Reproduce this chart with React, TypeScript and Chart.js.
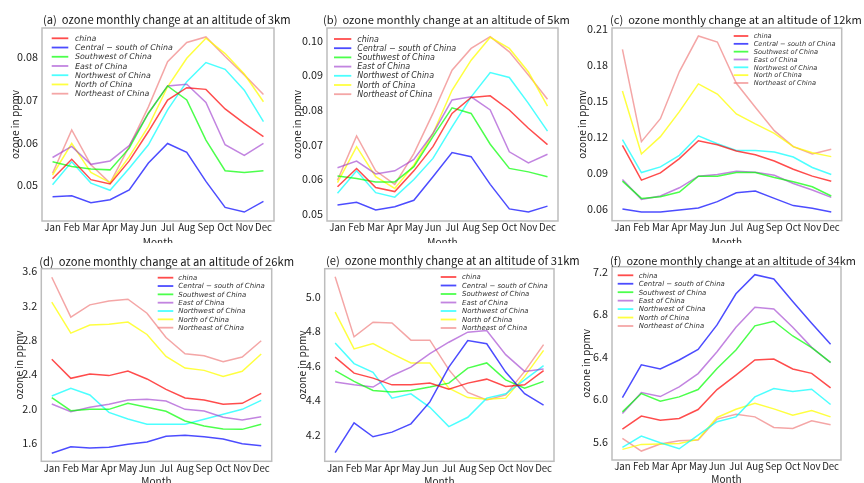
import React, { useEffect, useRef } from 'react';
import { Chart, registerables } from 'chart.js';

Chart.register(...registerables);

const months = ['Jan', 'Feb', 'Mar', 'Apr', 'May', 'Jun', 'Jul', 'Aug', 'Sep', 'Oct', 'Nov', 'Dec'];
const regionNames = [
  'china',
  'Central \u2212 south of China',
  'Southwest of China',
  'East of China',
  'Northwest of China',
  'North of China',
  'Northeast of China',
];
const regionColors = [
  'rgba(255,0,0,0.7)',
  'rgba(0,0,255,0.7)',
  'rgba(0,255,0,0.7)',
  'rgba(153,50,204,0.6)',
  'rgba(0,255,255,0.7)',
  'rgba(255,255,0,0.75)',
  'rgba(240,128,128,0.7)',
];

// (a) 3 km
const km3Series = [
  [0.0515, 0.0561, 0.0513, 0.0503, 0.0557, 0.0626, 0.0700, 0.0729, 0.0725, 0.0679, 0.0645, 0.0614],
  [0.0473, 0.0475, 0.0459, 0.0466, 0.0489, 0.0552, 0.0598, 0.0577, 0.0509, 0.0448, 0.0437, 0.0462],
  [0.0555, 0.0544, 0.0538, 0.0536, 0.0587, 0.0669, 0.0733, 0.0700, 0.0606, 0.0534, 0.0530, 0.0534],
  [0.0565, 0.0591, 0.0549, 0.0557, 0.0593, 0.0669, 0.0733, 0.0737, 0.0694, 0.0595, 0.0570, 0.0598],
  [0.0501, 0.0555, 0.0505, 0.0488, 0.0540, 0.0595, 0.0677, 0.0743, 0.0788, 0.0772, 0.0723, 0.0649],
  [0.0524, 0.0598, 0.0530, 0.0506, 0.0567, 0.0638, 0.0731, 0.0798, 0.0845, 0.0809, 0.0761, 0.0696],
  [0.0528, 0.0630, 0.0548, 0.0505, 0.0591, 0.0684, 0.0790, 0.0835, 0.0848, 0.0802, 0.0759, 0.0713],
];
const km3Ticks = [0.05, 0.06, 0.07, 0.08];
const km3TickLabels = ['0.05', '0.06', '0.07', '0.08'];

// (b) 5 km
const km5Series = [
  [0.0578, 0.0631, 0.0576, 0.0564, 0.0624, 0.0694, 0.0790, 0.0836, 0.0841, 0.0800, 0.0747, 0.0700],
  [0.0525, 0.0533, 0.0511, 0.0520, 0.0539, 0.0607, 0.0677, 0.0665, 0.0585, 0.0514, 0.0505, 0.0522],
  [0.0609, 0.0602, 0.0592, 0.0592, 0.0636, 0.0723, 0.0806, 0.0790, 0.0701, 0.0631, 0.0621, 0.0607],
  [0.0633, 0.0652, 0.0615, 0.0624, 0.0657, 0.0732, 0.0829, 0.0838, 0.0800, 0.0679, 0.0647, 0.0672],
  [0.0559, 0.0624, 0.0561, 0.0548, 0.0599, 0.0660, 0.0751, 0.0838, 0.0908, 0.0894, 0.0819, 0.0739],
  [0.0590, 0.0694, 0.0607, 0.0573, 0.0641, 0.0732, 0.0857, 0.0944, 0.1010, 0.0978, 0.0910, 0.0811],
  [0.0597, 0.0725, 0.0624, 0.0585, 0.0674, 0.0790, 0.0915, 0.0978, 0.1012, 0.0968, 0.0901, 0.0831],
];
const km5Ticks = [0.05, 0.06, 0.07, 0.08, 0.09, 0.1];
const km5TickLabels = ['0.05', '0.06', '0.07', '0.08', '0.09', '0.10'];

// (c) 12 km
const km12Series = [
  [0.1131, 0.0841, 0.0901, 0.1020, 0.1170, 0.1136, 0.1084, 0.1053, 0.1001, 0.0932, 0.0874, 0.0832],
  [0.0600, 0.0575, 0.0575, 0.0592, 0.0608, 0.0661, 0.0735, 0.0749, 0.0688, 0.0628, 0.0606, 0.0575],
  [0.0832, 0.0688, 0.0702, 0.0741, 0.0874, 0.0874, 0.0904, 0.0904, 0.0863, 0.0827, 0.0785, 0.0708],
  [0.0846, 0.0680, 0.0708, 0.0777, 0.0874, 0.0888, 0.0915, 0.0907, 0.0882, 0.0813, 0.0758, 0.0697],
  [0.1178, 0.0904, 0.0951, 0.1048, 0.1211, 0.1145, 0.1089, 0.1089, 0.1076, 0.1034, 0.0946, 0.0888],
  [0.1585, 0.1059, 0.1204, 0.1413, 0.1644, 0.1560, 0.1393, 0.1310, 0.1232, 0.1120, 0.1070, 0.1037],
  [0.1933, 0.1162, 0.1354, 0.1747, 0.2044, 0.1994, 0.1649, 0.1449, 0.1254, 0.1120, 0.1059, 0.1098],
];
const km12Ticks = [0.06, 0.09, 0.12, 0.15, 0.18, 0.21];
const km12TickLabels = ['0.06', '0.09', '0.12', '0.15', '0.18', '0.21'];

// (d) 26 km
const km26Series = [
  [2.575, 2.353, 2.404, 2.385, 2.439, 2.346, 2.225, 2.124, 2.101, 2.051, 2.062, 2.179],
  [1.480, 1.557, 1.542, 1.550, 1.585, 1.612, 1.678, 1.689, 1.674, 1.647, 1.592, 1.569],
  [2.128, 1.977, 1.992, 1.992, 2.062, 2.016, 1.969, 1.856, 1.798, 1.763, 1.759, 1.818],
  [2.054, 1.965, 2.016, 2.051, 2.101, 2.109, 2.089, 1.992, 1.973, 1.899, 1.868, 1.907],
  [2.148, 2.237, 2.159, 1.957, 1.880, 1.818, 1.818, 1.818, 1.876, 1.934, 1.992, 2.097],
  [3.240, 2.880, 2.973, 2.984, 3.008, 2.864, 2.609, 2.473, 2.446, 2.376, 2.435, 2.636],
  [3.530, 3.066, 3.209, 3.255, 3.275, 3.112, 2.829, 2.640, 2.617, 2.547, 2.601, 2.791],
];
const km26Ticks = [1.6, 2.0, 2.4, 2.8, 3.2, 3.6];
const km26TickLabels = ['1.6', '2.0', '2.4', '2.8', '3.2', '3.6'];

// (e) 31 km
const km31Series = [
  [4.650, 4.557, 4.528, 4.489, 4.489, 4.499, 4.464, 4.499, 4.522, 4.480, 4.489, 4.571],
  [4.096, 4.269, 4.188, 4.215, 4.263, 4.390, 4.592, 4.746, 4.727, 4.563, 4.438, 4.371],
  [4.571, 4.509, 4.456, 4.447, 4.456, 4.476, 4.499, 4.586, 4.616, 4.518, 4.470, 4.509],
  [4.505, 4.489, 4.476, 4.542, 4.592, 4.670, 4.736, 4.794, 4.804, 4.664, 4.567, 4.581],
  [4.732, 4.612, 4.561, 4.412, 4.437, 4.359, 4.247, 4.301, 4.412, 4.437, 4.518, 4.600],
  [4.910, 4.697, 4.728, 4.670, 4.616, 4.616, 4.470, 4.415, 4.406, 4.412, 4.538, 4.689],
  [5.115, 4.767, 4.852, 4.848, 4.748, 4.748, 4.577, 4.445, 4.402, 4.431, 4.567, 4.722],
];
const km31Ticks = [4.2, 4.4, 4.6, 4.8, 5.0];
const km31TickLabels = ['4.2', '4.4', '4.6', '4.8', '5.0'];

// (f) 34 km
const km34Series = [
  [5.719, 5.841, 5.803, 5.819, 5.903, 6.091, 6.227, 6.369, 6.378, 6.284, 6.243, 6.107],
  [6.016, 6.324, 6.284, 6.369, 6.469, 6.699, 6.992, 7.172, 7.131, 6.920, 6.715, 6.517],
  [5.881, 6.053, 5.981, 6.022, 6.091, 6.290, 6.463, 6.690, 6.734, 6.595, 6.485, 6.347],
  [5.866, 6.063, 6.025, 6.116, 6.241, 6.447, 6.677, 6.866, 6.850, 6.677, 6.488, 6.343],
  [5.547, 5.653, 5.591, 5.534, 5.663, 5.788, 5.834, 6.022, 6.100, 6.072, 6.094, 5.950],
  [5.528, 5.575, 5.578, 5.584, 5.622, 5.828, 5.906, 5.962, 5.909, 5.850, 5.894, 5.834],
  [5.631, 5.512, 5.578, 5.609, 5.616, 5.813, 5.859, 5.834, 5.734, 5.725, 5.797, 5.759],
];
const km34Ticks = [5.6, 6.0, 6.4, 6.8, 7.2];
const km34TickLabels = ['5.6', '6.0', '6.4', '6.8', '7.2'];

const titles = [
  '(a)  ozone monthly change at an altitude of 3km',
  '(b)  ozone monthly change at an altitude of 5km',
  '(c)  ozone monthly change at an altitude of 12km',
  '(d)  ozone monthly change at an altitude of 26km',
  '(e)  ozone monthly change at an altitude of 31km',
  '(f)  ozone monthly change at an altitude of 34km',
];
const yAxisTitle = 'ozone in ppmv';
const xAxisTitle = 'Month';

const FONT = "'Noto Sans CJK SC', 'Open Sans', sans-serif";
const LEGEND_FONT = "'DejaVu Sans', sans-serif";

function measureFit(text: string, style: string, family: string, target: number) {
  const c = document.createElement('canvas').getContext('2d') as CanvasRenderingContext2D;
  c.font = `${style} 20px ${family}`;
  const w = c.measureText(text).width || 1;
  return (20 * target) / w;
}

type Spec = {
  series: number[][];
  ticks: number[];
  tickLabels: string[];
  title: string;
  yMin: number;
  yMax: number;
  rect: { x: number; y: number; w: number; h: number };
  box: { L: number; T: number; R: number; B: number };
  titlePos: { x: number; y: number; w: number };
  yTitleX: number;
  xTitleY: number;
  legend: { x0: number; x1: number; tx: number; y0: number; dy: number; w: number };
};

const specs: Spec[] = [
  {
    series: km3Series, ticks: km3Ticks, tickLabels: km3TickLabels, title: titles[0],
    yMin: 0.0416, yMax: 0.0869,
    rect: { x: 0, y: 0, w: 300, h: 243 },
    box: { L: 42, T: 28, R: 274, B: 221 },
    titlePos: { x: 43, y: 20, w: 248 },
    yTitleX: 15, xTitleY: 242,
    legend: { x0: 51.7, x1: 68.3, tx: 75, y0: 38.3, dy: 9.23, w: 98 },
  },
  {
    series: km5Series, ticks: km5Ticks, tickLabels: km5TickLabels, title: titles[1],
    yMin: 0.0479, yMax: 0.1037,
    rect: { x: 288, y: 0, w: 300, h: 243 },
    box: { L: 327, T: 28, R: 558, B: 221 },
    titlePos: { x: 323, y: 20, w: 247 },
    yTitleX: 297, xTitleY: 242,
    legend: { x0: 334, x1: 351.3, tx: 357.3, y0: 39, dy: 9.2, w: 99 },
  },
  {
    series: km12Series, ticks: km12Ticks, tickLabels: km12TickLabels, title: titles[2],
    yMin: 0.0502, yMax: 0.2111,
    rect: { x: 576, y: 0, w: 288, h: 243 },
    box: { L: 612, T: 28, R: 841.7, B: 220.7 },
    titlePos: { x: 610, y: 20, w: 252 },
    yTitleX: 582, xTitleY: 242,
    legend: { x0: 733.7, x1: 748.3, tx: 753.7, y0: 36, dy: 7.83, w: 82 },
  },
  {
    series: km26Series, ticks: km26Ticks, tickLabels: km26TickLabels, title: titles[3],
    yMin: 1.387, yMax: 3.63,
    rect: { x: 0, y: 243, w: 300, h: 240 },
    box: { L: 41.3, T: 268.7, R: 271.7, B: 461.3 },
    titlePos: { x: 39.3, y: 261.7, w: 255 },
    yTitleX: 19, xTitleY: 481,
    legend: { x0: 157.7, x1: 173.3, tx: 178.3, y0: 277.7, dy: 8.33, w: 86.7 },
  },
  {
    series: km31Series, ticks: km31Ticks, tickLabels: km31TickLabels, title: titles[4],
    yMin: 4.046, yMax: 5.162,
    rect: { x: 288, y: 243, w: 300, h: 240 },
    box: { L: 324.7, T: 268.7, R: 554, B: 461.3 },
    titlePos: { x: 326, y: 260.7, w: 254 },
    yTitleX: 302, xTitleY: 481,
    legend: { x0: 440.7, x1: 456.3, tx: 462, y0: 277, dy: 8.5, w: 86 },
  },
  {
    series: km34Series, ticks: km34Ticks, tickLabels: km34TickLabels, title: titles[5],
    yMin: 5.428, yMax: 7.247,
    rect: { x: 576, y: 243, w: 288, h: 240 },
    box: { L: 612, T: 266.7, R: 841, B: 460 },
    titlePos: { x: 610, y: 260.7, w: 246 },
    yTitleX: 586, xTitleY: 479.5,
    legend: { x0: 617.7, x1: 633.3, tx: 638.7, y0: 275.3, dy: 8.45, w: 86.3 },
  },
];

function Panel({ spec }: { spec: Spec }) {
  const ref = useRef<HTMLCanvasElement>(null);
  useEffect(() => {
    const { rect, box } = spec;
    const xTickSize = Math.min(11.5, measureFit('May', 'normal', FONT, 18.3));
    const yTickSize = Math.min(12.5, measureFit('0.08', 'normal', FONT, 21));
    const deco = {
      id: 'deco',
      afterDraw(chart: any) {
        const ctx = chart.ctx as CanvasRenderingContext2D;
        const a = chart.chartArea;
        ctx.save();
        // frame
        ctx.strokeStyle = '#bdbdbd';
        ctx.lineWidth = 1.5;
        ctx.strokeRect(a.left, a.top, a.right - a.left, a.bottom - a.top);
        // title
        ctx.fillStyle = '#1a1a1a';
        const tfs = measureFit(spec.title, 'normal', FONT, spec.titlePos.w);
        ctx.font = `${tfs}px ${FONT}`;
        ctx.textAlign = 'left';
        ctx.textBaseline = 'middle';
        ctx.fillText(spec.title, spec.titlePos.x - rect.x, spec.titlePos.y - rect.y);
        // axis titles
        ctx.fillStyle = '#222';
        const afs = measureFit(yAxisTitle, 'normal', FONT, 69);
        ctx.font = `${afs}px ${FONT}`;
        ctx.textAlign = 'center';
        ctx.fillText(xAxisTitle, (a.left + a.right) / 2, spec.xTitleY - rect.y);
        ctx.save();
        ctx.translate(spec.yTitleX - rect.x, (a.top + a.bottom) / 2);
        ctx.rotate(-Math.PI / 2);
        ctx.fillText(yAxisTitle, 0, 0);
        ctx.restore();
        // legend
        const lg = spec.legend;
        const lfs = measureFit(regionNames[1], 'italic', LEGEND_FONT, lg.w);
        ctx.font = `italic ${lfs}px ${LEGEND_FONT}`;
        ctx.textAlign = 'left';
        chart.data.datasets.forEach((ds: any, i: number) => {
          const yy = lg.y0 + i * lg.dy - rect.y;
          ctx.strokeStyle = ds.borderColor;
          ctx.lineWidth = 1.8;
          ctx.beginPath();
          ctx.moveTo(lg.x0 - rect.x, yy);
          ctx.lineTo(lg.x1 - rect.x, yy);
          ctx.stroke();
          ctx.fillStyle = '#333';
          ctx.fillText(ds.label, lg.tx - rect.x, yy + 0.5);
        });
        ctx.restore();
      },
    };
    const chart = new Chart(ref.current as HTMLCanvasElement, {
      type: 'line',
      data: {
        datasets: spec.series.map((vals, i) => ({
          label: regionNames[i],
          data: vals.map((v, j) => ({ x: j, y: v })),
          borderColor: regionColors[i],
          backgroundColor: regionColors[i],
          borderWidth: 1.5,
          pointRadius: 0,
          tension: 0,
          fill: false,
        })),
      },
      options: {
        responsive: false,
        animation: false,
        devicePixelRatio: 1,
        events: [],
        layout: {
          padding: { left: 0, top: box.T - rect.y, right: rect.x + rect.w - box.R, bottom: 0 },
        },
        plugins: { legend: { display: false }, title: { display: false }, tooltip: { enabled: false } },
        scales: {
          x: {
            type: 'linear',
            min: -0.55,
            max: 11.55,
            grid: { display: false, drawTicks: false },
            border: { display: false },
            afterBuildTicks: (s: any) => {
              s.ticks = months.map((_, i) => ({ value: i }));
            },
            afterFit: (s: any) => {
              s.height = rect.y + rect.h - box.B;
            },
            ticks: {
              autoSkip: false,
              maxRotation: 0,
              minRotation: 0,
              padding: 1,
              color: '#222',
              font: { family: FONT, size: xTickSize },
              callback: (_v: any, i: number) => months[i],
            },
          },
          y: {
            type: 'linear',
            min: spec.yMin,
            max: spec.yMax,
            grid: { display: false, drawTicks: false },
            border: { display: false },
            afterBuildTicks: (s: any) => {
              s.ticks = spec.ticks.map((v) => ({ value: v }));
            },
            afterFit: (s: any) => {
              s.width = box.L - rect.x;
            },
            ticks: {
              padding: 4,
              color: '#222',
              font: { family: FONT, size: yTickSize },
              callback: (_v: any, i: number) => spec.tickLabels[i],
            },
          },
        },
      },
      plugins: [deco],
    } as any);
    return () => chart.destroy();
  }, [spec]);
  return (
    <canvas
      ref={ref}
      width={spec.rect.w}
      height={spec.rect.h}
      style={{
        position: 'absolute',
        left: spec.rect.x,
        top: spec.rect.y,
        width: spec.rect.w,
        height: spec.rect.h,
      }}
    />
  );
}

export default function App() {
  return (
    <div
      style={{
        position: 'fixed',
        left: 0,
        top: 0,
        width: 864,
        height: 483,
        background: '#ffffff',
        overflow: 'hidden',
      }}
    >
      {specs.map((s, i) => (
        <Panel key={i} spec={s} />
      ))}
    </div>
  );
}
